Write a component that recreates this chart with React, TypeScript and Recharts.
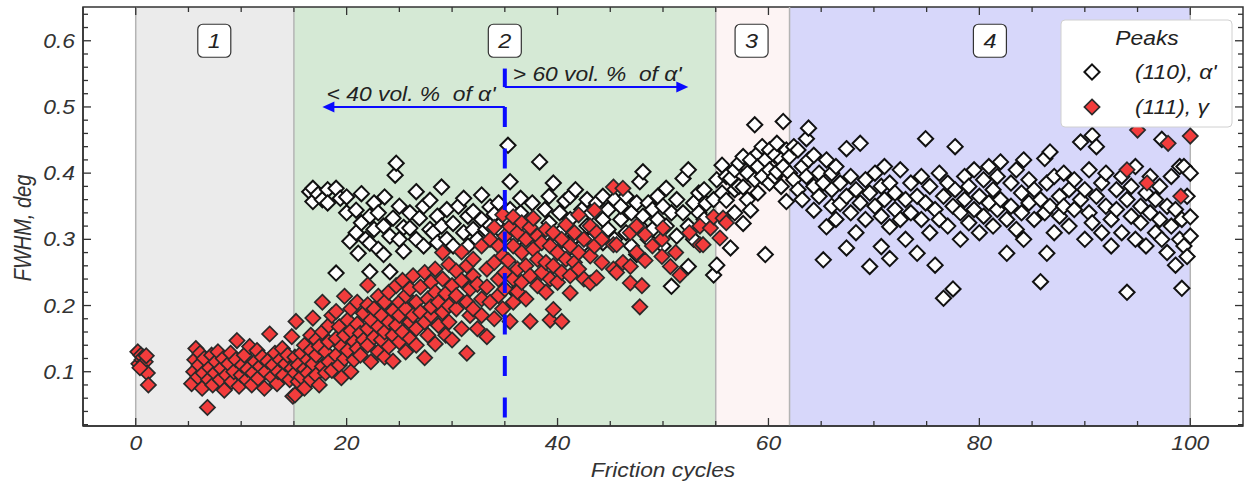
import React from 'react';
import {
  ScatterChart, Scatter, XAxis, YAxis, ReferenceArea, ReferenceLine, ReferenceDot
} from 'recharts';

const FONT = "'Liberation Sans', Arial, Helvetica, sans-serif";
const INK = '#333';
const BLUE = '#0a0aff';
const STRETCH = 1.17; // the figure's text is a little wider than it is tall
const PLOT_H = 419;
const PLOT_W = 1160;

// axis ticks (minor + major)
const xTicks = [0, 5, 10, 15, 20, 25, 30, 35, 40, 45, 50, 55, 60, 65, 70, 75, 80, 85, 90, 95, 100];
const xMajor = [0, 20, 40, 60, 80, 100];
const yTicks = [0.02, 0.04, 0.06, 0.08, 0.1, 0.12, 0.14, 0.16, 0.18, 0.2, 0.22, 0.24, 0.26, 0.28, 0.3,
  0.32, 0.34, 0.36, 0.38, 0.4, 0.42, 0.44, 0.46, 0.48, 0.5, 0.52, 0.54, 0.56, 0.58, 0.6, 0.62, 0.64];
const yMajor = [0.1, 0.2, 0.3, 0.4, 0.5, 0.6];

// wear stages
const stageEdges = [0, 15, 55, 62, 100];
const stageColors = ['#ebebeb', '#d5e9d5', '#fdf4f4', '#d7d7fa'];
const stageNames = ['1', '2', '3', '4'];
const stageLabelX = [7.45, 35, 58.4, 81];

// (111) gamma peak, FWHM vs cycle
const gamma0to15: [number, number][] = [
  [0.2, 0.130], [0.3, 0.112], [0.5, 0.125], [0.6, 0.118], [0.7, 0.122], [0.9, 0.115], [1.0, 0.124], [1.1, 0.098], [1.2, 0.080], [0.4, 0.106],
  [5.3, 0.082], [5.5, 0.100], [5.6, 0.118], [5.7, 0.135], [5.9, 0.092], [6.0, 0.110], [6.1, 0.128], [6.3, 0.075], [6.4, 0.098], [6.5, 0.120],
  [6.8, 0.046], [6.9, 0.088], [7.0, 0.106], [7.2, 0.125], [7.3, 0.080], [7.5, 0.098], [7.6, 0.115], [7.8, 0.130], [8.0, 0.088], [8.1, 0.105],
  [8.3, 0.120], [8.4, 0.072], [8.6, 0.095], [8.8, 0.112], [9.0, 0.128], [9.1, 0.085], [9.3, 0.100], [9.5, 0.118], [9.6, 0.147], [9.8, 0.078],
  [10.0, 0.095], [10.1, 0.110], [10.3, 0.125], [10.5, 0.088], [10.6, 0.104], [10.8, 0.138], [11.0, 0.080], [11.1, 0.098], [11.3, 0.115], [11.5, 0.132],
  [11.6, 0.090], [11.8, 0.108], [12.0, 0.122], [12.2, 0.075], [12.3, 0.100], [12.5, 0.116], [12.7, 0.157], [12.9, 0.092], [13.0, 0.110], [13.2, 0.128],
  [13.4, 0.082], [13.5, 0.100], [13.7, 0.118], [13.9, 0.135], [14.0, 0.095], [14.2, 0.112], [14.4, 0.125], [14.9, 0.063], [14.6, 0.088], [14.8, 0.105], [14.8, 0.153],
];
const gamma15to35: [number, number][] = [
  [15.1, 0.065], [15.1, 0.098], [15.1, 0.122], [15.4, 0.085], [15.4, 0.110], [15.2, 0.176], [15.7, 0.092], [15.7, 0.128],
  [16.0, 0.075], [16.0, 0.104], [16.0, 0.140], [16.3, 0.118], [16.3, 0.098], [16.6, 0.088], [16.6, 0.132], [16.6, 0.155],
  [16.8, 0.181], [16.8, 0.112], [17.1, 0.095], [17.1, 0.125], [17.1, 0.148], [17.4, 0.080], [17.4, 0.138],
  [17.7, 0.205], [17.7, 0.108], [17.7, 0.160], [18.0, 0.098], [18.0, 0.130], [18.3, 0.145], [18.3, 0.115], [18.3, 0.170],
  [18.6, 0.102], [18.6, 0.185], [19.0, 0.191], [19.0, 0.125], [19.0, 0.150], [19.3, 0.110], [19.3, 0.168], [19.5, 0.091], [19.5, 0.138],
  [19.8, 0.214], [19.8, 0.155], [19.8, 0.120], [20.1, 0.132], [20.1, 0.178], [20.4, 0.100], [20.4, 0.162], [20.4, 0.195],
  [20.7, 0.145], [20.7, 0.118], [21.0, 0.172], [21.0, 0.135], [21.0, 0.205], [21.3, 0.125], [21.3, 0.158], [21.6, 0.188], [21.6, 0.148],
  [22.0, 0.231], [22.0, 0.201], [22.0, 0.140], [22.0, 0.165], [22.3, 0.115], [22.3, 0.178], [22.6, 0.152], [22.6, 0.195],
  [23.0, 0.214], [23.0, 0.130], [23.0, 0.168], [23.3, 0.185], [23.3, 0.148], [23.6, 0.205], [23.6, 0.122], [23.6, 0.160],
  [24.0, 0.175], [24.0, 0.138], [24.0, 0.220], [24.4, 0.116], [24.4, 0.192], [24.4, 0.155], [24.7, 0.230], [24.7, 0.170],
  [25.0, 0.145], [25.0, 0.205], [25.0, 0.185], [25.3, 0.160], [25.3, 0.238], [25.6, 0.130], [25.6, 0.195], [25.6, 0.215],
  [26.0, 0.175], [26.0, 0.225], [26.0, 0.150], [26.3, 0.245], [26.3, 0.185], [26.6, 0.140], [26.6, 0.205], [26.6, 0.165],
  [27.0, 0.228], [27.0, 0.190], [27.4, 0.121], [27.4, 0.175], [27.4, 0.250], [27.7, 0.210], [27.7, 0.155],
  [28.0, 0.235], [28.0, 0.185], [28.0, 0.198], [28.4, 0.142], [28.4, 0.255], [28.4, 0.220], [28.7, 0.170], [28.7, 0.205],
  [29.1, 0.280], [29.1, 0.190], [29.1, 0.240], [29.4, 0.155], [29.4, 0.218], [29.7, 0.262], [29.7, 0.200], [29.7, 0.175],
  [30.0, 0.230], [30.0, 0.148], [30.4, 0.195], [30.4, 0.252], [30.4, 0.215], [30.9, 0.281], [30.9, 0.165], [30.9, 0.238],
  [31.4, 0.128], [31.4, 0.205], [31.4, 0.260], [31.7, 0.225], [31.7, 0.185], [32.0, 0.270], [32.0, 0.195], [32.0, 0.245],
  [32.4, 0.165], [32.4, 0.232], [32.8, 0.290], [32.8, 0.210], [32.8, 0.185], [33.3, 0.153], [33.3, 0.255], [33.3, 0.228],
  [33.6, 0.300], [33.6, 0.205], [34.0, 0.265], [34.0, 0.180], [34.0, 0.318], [34.4, 0.240], [34.4, 0.215], [34.4, 0.290],
  [34.8, 0.337], [34.8, 0.275], [34.8, 0.195], [35.0, 0.305], [35.0, 0.250], [35.0, 0.225],
];
const gamma35to56: [number, number][] = [
  [35.5, 0.319], [35.5, 0.176], [35.3, 0.268], [35.8, 0.334], [35.8, 0.290], [35.8, 0.240], [35.8, 0.205],
  [36.2, 0.310], [36.2, 0.255], [36.2, 0.221], [36.6, 0.280], [36.6, 0.325], [36.6, 0.235],
  [37.0, 0.300], [37.0, 0.260], [37.0, 0.210], [37.4, 0.176], [37.4, 0.245], [37.4, 0.318], [37.7, 0.332], [37.7, 0.285],
  [38.1, 0.270], [38.1, 0.230], [38.1, 0.305], [38.5, 0.250], [38.5, 0.295], [38.9, 0.315], [38.9, 0.265], [38.9, 0.220],
  [39.3, 0.178], [39.3, 0.290], [39.3, 0.240], [39.6, 0.194], [39.6, 0.310], [39.6, 0.260], [40.0, 0.280], [40.0, 0.235],
  [40.4, 0.176], [40.4, 0.300], [40.4, 0.250], [40.8, 0.270], [40.8, 0.322], [41.2, 0.219], [41.2, 0.290], [41.2, 0.245],
  [41.6, 0.310], [41.6, 0.265], [42.0, 0.337], [42.0, 0.280], [42.0, 0.255], [42.5, 0.300], [42.5, 0.240],
  [43.1, 0.234], [43.1, 0.320], [43.1, 0.275], [43.5, 0.344], [43.5, 0.290], [43.7, 0.242], [43.7, 0.310], [44.2, 0.265], [44.2, 0.300],
  [45.3, 0.379], [45.3, 0.292], [45.3, 0.255], [45.6, 0.292], [45.6, 0.250], [46.2, 0.377], [46.2, 0.265],
  [46.9, 0.259], [46.9, 0.234], [46.9, 0.310], [47.5, 0.280], [47.5, 0.320], [47.8, 0.198], [48.0, 0.230], [48.3, 0.307], [48.3, 0.268],
  [49.0, 0.290], [49.9, 0.274], [49.9, 0.300], [50.0, 0.317], [50.7, 0.259], [51.2, 0.280], [51.6, 0.246], [52.5, 0.310],
  [53.5, 0.292], [53.5, 0.320], [53.8, 0.292], [54.5, 0.317], [54.8, 0.334], [55.4, 0.302], [55.7, 0.332], [56.0, 0.325],
];
const gamma94to100: [number, number][] = [
  [94.0, 0.405], [95.0, 0.465], [95.9, 0.385], [97.9, 0.445], [99.1, 0.365], [100.0, 0.456],
];

// (110) alpha' peak, FWHM vs cycle
const alpha16to35: [number, number][] = [
  [16.5, 0.372], [16.8, 0.377], [16.8, 0.357], [17.3, 0.368], [17.7, 0.360], [18.2, 0.375], [18.2, 0.355],
  [19.0, 0.377], [19.0, 0.249], [19.4, 0.362], [20.0, 0.364], [20.0, 0.340], [20.3, 0.297], [20.9, 0.344], [20.9, 0.310],
  [21.1, 0.279], [21.4, 0.369], [21.4, 0.325], [21.8, 0.300], [22.2, 0.294], [22.2, 0.251], [22.2, 0.335],
  [22.6, 0.315], [22.6, 0.355], [23.0, 0.285], [23.0, 0.340], [23.5, 0.277], [23.5, 0.320], [23.6, 0.364],
  [24.1, 0.251], [24.1, 0.305], [24.4, 0.332], [24.6, 0.397], [24.7, 0.415], [25.0, 0.300], [25.0, 0.350],
  [25.4, 0.318], [25.4, 0.282], [26.0, 0.317], [26.0, 0.340], [26.6, 0.372], [26.6, 0.300], [26.9, 0.332],
  [27.3, 0.350], [27.3, 0.290], [27.9, 0.359], [27.9, 0.315], [28.2, 0.310], [28.6, 0.335], [28.6, 0.295],
  [29.0, 0.379], [29.0, 0.320], [29.5, 0.300], [29.5, 0.345], [30.1, 0.324], [30.1, 0.290], [30.6, 0.350],
  [31.1, 0.362], [31.1, 0.310], [31.5, 0.335], [31.5, 0.290], [32.0, 0.342], [32.0, 0.315], [32.4, 0.300],
  [32.8, 0.367], [32.8, 0.330], [33.2, 0.315], [33.6, 0.349], [33.6, 0.321], [34.0, 0.300], [34.0, 0.338],
  [34.4, 0.355], [34.4, 0.320], [34.8, 0.310],
];
const alpha35to55: [number, number][] = [
  [35.3, 0.442], [35.5, 0.387], [35.5, 0.345], [35.8, 0.257], [35.8, 0.320], [36.0, 0.305], [36.0, 0.221],
  [36.5, 0.340], [36.5, 0.362], [37.0, 0.318], [37.0, 0.290], [37.6, 0.355], [37.6, 0.330], [38.3, 0.417], [38.3, 0.300],
  [38.8, 0.307], [38.8, 0.345], [39.2, 0.365], [39.2, 0.325], [39.6, 0.385], [39.6, 0.290], [40.2, 0.340], [40.2, 0.310],
  [40.7, 0.358], [40.7, 0.280], [41.2, 0.330], [41.2, 0.365], [41.7, 0.375], [41.7, 0.305], [42.3, 0.345], [42.3, 0.290],
  [42.8, 0.360], [42.8, 0.320], [43.2, 0.300], [43.2, 0.340], [43.7, 0.310], [43.7, 0.355], [44.3, 0.330], [44.3, 0.365],
  [44.3, 0.295], [44.8, 0.345], [44.8, 0.315], [45.4, 0.360], [45.4, 0.300], [46.0, 0.330], [46.0, 0.350],
  [46.5, 0.310], [46.5, 0.365], [47.0, 0.340], [47.0, 0.290], [47.5, 0.277], [47.5, 0.355], [47.8, 0.387], [47.8, 0.320],
  [48.1, 0.402], [48.1, 0.335], [48.6, 0.300], [48.6, 0.355], [49.0, 0.345], [49.0, 0.315], [49.5, 0.365], [49.5, 0.330],
  [50.0, 0.350], [50.0, 0.290], [50.3, 0.377], [50.3, 0.320], [50.8, 0.229], [50.8, 0.340], [51.3, 0.360], [51.3, 0.305],
  [51.9, 0.392], [51.9, 0.340], [52.4, 0.405], [52.4, 0.259], [52.4, 0.320], [52.9, 0.355], [52.9, 0.300],
  [53.4, 0.340], [53.4, 0.370], [53.9, 0.330], [53.9, 0.375], [54.1, 0.354], [54.8, 0.246], [54.8, 0.360], [55.1, 0.261], [55.1, 0.390],
];
const alpha55to62: [number, number][] = [
  [55.6, 0.412], [55.6, 0.370], [56.0, 0.359], [56.0, 0.395], [56.4, 0.392], [56.4, 0.287], [56.8, 0.375], [56.8, 0.405],
  [56.8, 0.340], [57.2, 0.415], [57.2, 0.380], [57.6, 0.379], [57.6, 0.324], [57.6, 0.425], [58.0, 0.400], [58.0, 0.360],
  [58.3, 0.344], [58.3, 0.420], [58.7, 0.473], [58.7, 0.390], [59.0, 0.430], [59.0, 0.410], [59.0, 0.370], [59.4, 0.395],
  [59.4, 0.440], [59.7, 0.277], [59.7, 0.420], [60.1, 0.405], [60.1, 0.385], [60.1, 0.435], [60.6, 0.427], [60.6, 0.395],
  [60.8, 0.402], [60.8, 0.445], [61.2, 0.420], [61.2, 0.380], [61.4, 0.478], [61.4, 0.410], [61.7, 0.357], [61.7, 0.435],
  [62.0, 0.400], [62.0, 0.425],
];
const alpha62to100: [number, number][] = [
  [62.4, 0.390], [62.4, 0.440], [62.8, 0.435], [62.8, 0.375], [63.2, 0.410], [63.2, 0.360], [63.6, 0.452], [63.6, 0.395],
  [63.8, 0.468], [63.8, 0.420], [64.3, 0.427], [64.3, 0.344], [64.3, 0.380], [64.8, 0.400], [64.8, 0.365],
  [65.2, 0.269], [65.2, 0.385], [65.5, 0.319], [65.5, 0.420], [66.0, 0.375], [66.0, 0.350], [66.0, 0.400],
  [66.4, 0.410], [66.4, 0.330], [66.8, 0.354], [66.8, 0.385], [67.4, 0.437], [67.4, 0.287], [67.4, 0.365],
  [67.8, 0.395], [67.8, 0.340], [68.3, 0.375], [68.3, 0.310], [68.7, 0.445], [68.7, 0.355], [69.2, 0.390], [69.2, 0.330],
  [69.6, 0.259], [69.6, 0.370], [70.1, 0.350], [70.1, 0.400], [70.7, 0.289], [70.7, 0.380], [70.7, 0.335],
  [71.0, 0.360], [71.0, 0.410], [71.5, 0.271], [71.5, 0.319], [71.5, 0.385], [72.0, 0.345], [72.0, 0.370],
  [72.5, 0.405], [72.5, 0.330], [73.0, 0.360], [73.0, 0.300], [73.5, 0.385], [73.5, 0.340], [74.1, 0.279], [74.1, 0.365],
  [74.5, 0.395], [74.5, 0.330], [74.9, 0.452], [74.9, 0.355], [75.3, 0.310], [75.3, 0.380], [75.8, 0.261], [75.8, 0.345],
  [76.2, 0.400], [76.2, 0.330], [76.6, 0.211], [76.6, 0.365], [77.0, 0.385], [77.0, 0.320], [77.5, 0.225], [77.5, 0.350],
  [77.7, 0.440], [77.7, 0.375], [78.2, 0.340], [78.2, 0.300], [78.6, 0.395], [78.6, 0.360], [79.0, 0.325], [79.0, 0.380],
  [79.5, 0.405], [79.5, 0.345], [80.0, 0.365], [80.0, 0.310], [80.4, 0.390], [80.4, 0.335], [80.9, 0.355], [80.9, 0.410],
  [81.3, 0.320], [81.3, 0.375], [81.7, 0.395], [81.7, 0.345], [82.0, 0.417], [82.0, 0.360], [82.6, 0.279], [82.6, 0.330],
  [83.0, 0.385], [83.0, 0.350], [83.5, 0.405], [83.5, 0.315], [84.0, 0.370], [84.0, 0.340], [84.2, 0.420], [84.2, 0.300],
  [84.7, 0.355], [84.7, 0.390], [85.2, 0.330], [85.2, 0.375], [85.8, 0.236], [85.8, 0.360], [86.2, 0.422], [86.2, 0.340],
  [86.4, 0.279], [86.4, 0.385], [86.7, 0.432], [86.7, 0.350], [87.1, 0.310], [87.1, 0.395], [87.6, 0.365], [87.6, 0.335],
  [88.0, 0.400], [88.0, 0.350], [88.5, 0.320], [88.5, 0.375], [89.0, 0.345], [89.0, 0.390], [89.6, 0.447], [89.6, 0.360],
  [90.0, 0.300], [90.0, 0.375], [90.4, 0.340], [90.4, 0.405], [90.7, 0.457], [90.7, 0.325], [91.1, 0.440], [91.1, 0.365],
  [91.6, 0.310], [91.6, 0.385], [92.0, 0.350], [92.0, 0.400], [92.5, 0.330], [92.5, 0.290], [93.0, 0.375], [93.0, 0.345],
  [93.5, 0.310], [93.5, 0.395], [94.0, 0.220], [94.0, 0.360], [94.4, 0.335], [94.4, 0.380], [94.8, 0.410], [94.8, 0.300],
  [95.3, 0.350], [95.3, 0.325], [95.8, 0.370], [95.8, 0.290], [96.2, 0.340], [96.2, 0.395], [96.7, 0.310], [96.7, 0.360],
  [97.1, 0.380], [97.1, 0.330], [97.3, 0.451], [97.3, 0.300], [97.8, 0.350], [97.8, 0.280], [98.2, 0.320], [98.2, 0.395],
  [98.6, 0.261], [98.6, 0.345], [99.0, 0.410], [99.0, 0.300], [99.2, 0.226], [99.2, 0.330], [99.4, 0.410], [99.4, 0.290],
  [99.7, 0.274], [99.7, 0.365], [100.0, 0.334], [100.0, 0.400], [100.0, 0.305],
];

const toPoints = (...parts: [number, number][][]) =>
  parts.flat().map(([x, y]) => ({ x, y }));

const alphaData = toPoints(alpha16to35, alpha35to55, alpha55to62, alpha62to100);
const gammaData = toPoints(gamma0to15, gamma15to35, gamma35to56, gamma94to100);

const R = 7.6;
const diamondPath = (cx: number, cy: number, r: number) =>
  `M${cx},${cy - r}L${cx + r},${cy}L${cx},${cy + r}L${cx - r},${cy}Z`;

const WhiteDiamond = (p: any) => (
  <path d={diamondPath(p.cx, p.cy, R)} fill="#fff" stroke="#111" strokeWidth={2} />
);
const RedDiamond = (p: any) => (
  <path d={diamondPath(p.cx, p.cy, R)} fill="#f23c3c" stroke="#2a2a2a" strokeWidth={1.7} />
);

const textStyle = { fontFamily: FONT, fontStyle: 'italic' as const, fontSize: 19.5, fill: INK, whiteSpace: 'pre' as const };

// horizontally stretched italic text
const WideText = ({ x, y, anchor = 'start', fill = INK, size = 19.5, children }: any) => (
  <g transform={`translate(${x},${y}) scale(${STRETCH},1)`}>
    <text x={0} y={0} textAnchor={anchor} style={{ ...textStyle, fontSize: size, fill }}>{children}</text>
  </g>
);

const isMajorY = (v: number) => yMajor.some(m => Math.abs(m - v) < 1e-6);

// bottom ticks also draw the mirrored ticks on the top spine
const BottomTick = ({ x, y, payload }: any) => {
  const major = xMajor.includes(payload.value);
  const len = major ? 8 : 5;
  return (
    <g>
      <line x1={x} x2={x} y1={y} y2={y - len} stroke={INK} strokeWidth={1.3} />
      <line x1={x} x2={x} y1={y - PLOT_H} y2={y - PLOT_H + len} stroke={INK} strokeWidth={1.3} />
      {major && <WideText x={x} y={y + 24} anchor="middle">{payload.value}</WideText>}
    </g>
  );
};
// left ticks also draw the mirrored ticks on the right spine
const LeftTick = ({ x, y, payload }: any) => {
  const major = isMajorY(payload.value);
  const len = major ? 8 : 5;
  return (
    <g>
      <line x1={x} x2={x + len} y1={y} y2={y} stroke={INK} strokeWidth={1.3} />
      <line x1={x + PLOT_W} x2={x + PLOT_W - len} y1={y} y2={y} stroke={INK} strokeWidth={1.3} />
      {major && <WideText x={x - 8} y={y + 7} anchor="end">{payload.value.toFixed(1)}</WideText>}
    </g>
  );
};

const StageBox = (text: string) => (p: any) => (
  <g>
    <rect x={p.cx - 16.5} y={p.cy - 16.5} width={33} height={33} rx={5} fill="#fff" stroke={INK} strokeWidth={1.2} />
    <WideText x={p.cx} y={p.cy + 7.5} anchor="middle" fill="#222" size={20}>{text}</WideText>
  </g>
);
const ArrowLeft = (p: any) => (
  <path d={`M${p.cx},${p.cy}L${p.cx + 12},${p.cy - 5.5}L${p.cx + 12},${p.cy + 5.5}Z`} fill={BLUE} />
);
const ArrowRight = (p: any) => (
  <path d={`M${p.cx},${p.cy}L${p.cx - 12},${p.cy - 5.5}L${p.cx - 12},${p.cy + 5.5}Z`} fill={BLUE} />
);
const Note = (text: string) => (p: any) => (
  <WideText x={p.cx} y={p.cy - 6} fill="#222">{text}</WideText>
);

export default function App() {
  return (
    <div style={{ position: 'absolute', left: 0, top: 0, width: 1245, height: 489, background: '#fff' }}>
      <ScatterChart width={1245} height={489} margin={{ top: 7, right: 2, bottom: 0, left: 0 }}>
        {stageColors.map((c, i) => (
          <ReferenceArea key={`area-${i}`} x1={stageEdges[i]} x2={stageEdges[i + 1]} fill={c} fillOpacity={1} stroke="none" />
        ))}
        {stageEdges.map(e => (
          <ReferenceLine key={`edge-${e}`} x={e} stroke="#b4b4b4" strokeWidth={1.5} />
        ))}
        <ReferenceArea x1={-5} x2={105} y1={0.018} y2={0.651} fill="none" stroke={INK} strokeWidth={1.5} ifOverflow="visible" />
        <XAxis type="number" dataKey="x" domain={[-5, 105]} ticks={xTicks} interval={0}
          height={63} tickSize={0} tickMargin={0} tick={<BottomTick />}
          axisLine={{ stroke: INK, strokeWidth: 1.5 }} allowDataOverflow />
        <YAxis type="number" dataKey="y" domain={[0.018, 0.651]} ticks={yTicks} interval={0}
          width={83} tickSize={0} tickMargin={0} tick={<LeftTick />}
          axisLine={{ stroke: INK, strokeWidth: 1.5 }} allowDataOverflow />

        <Scatter name="(110), α'" data={alphaData} shape={WhiteDiamond} isAnimationActive={false} />
        <Scatter name="(111), γ" data={gammaData} shape={RedDiamond} isAnimationActive={false} />

        <ReferenceLine segment={[{ x: 35, y: 0.5 }, { x: 35, y: 0.018 }]} stroke={BLUE} strokeWidth={4}
          strokeDasharray="20 21.5" zIndex={650} />
        <ReferenceLine segment={[{ x: 35, y: 0.558 }, { x: 35, y: 0.53 }]} stroke={BLUE} strokeWidth={4} zIndex={650} />
        <ReferenceLine segment={[{ x: 35, y: 0.53 }, { x: 51.5, y: 0.53 }]} stroke={BLUE} strokeWidth={2} zIndex={650} />
        <ReferenceLine segment={[{ x: 35, y: 0.5 }, { x: 18.5, y: 0.5 }]} stroke={BLUE} strokeWidth={2} zIndex={650} />
        <ReferenceDot x={17.7} y={0.5} r={0} shape={ArrowLeft} />
        <ReferenceDot x={52.4} y={0.53} r={0} shape={ArrowRight} />
        <ReferenceDot x={18.1} y={0.5} r={0} shape={Note("< 40 vol. %  of α'")} />
        <ReferenceDot x={35.75} y={0.53} r={0} shape={Note("> 60 vol. %  of α'")} />
        {stageNames.map((n, i) => (
          <ReferenceDot key={`stage-${n}`} x={stageLabelX[i]} y={0.6} r={0} shape={StageBox(n)} />
        ))}
      </ScatterChart>

      <svg width={1245} height={489} style={{ position: 'absolute', left: 0, top: 0, pointerEvents: 'none' }}>
        <g transform="translate(31,228) rotate(-90) scale(1,1.17)">
          <text x={0} y={0} textAnchor="middle" style={{ ...textStyle, fontSize: 20 }}>FWHM, deg</text>
        </g>
        <WideText x={663} y={477} anchor="middle">Friction cycles</WideText>
        <rect x={1061} y={20} width={171} height={107} rx={4} fill="#fff" stroke="#d0d0d0" strokeWidth={1} />
        <WideText x={1147} y={45} anchor="middle" fill="#222">Peaks</WideText>
        <path d={diamondPath(1092, 72, R)} fill="#fff" stroke="#111" strokeWidth={2} />
        <WideText x={1135} y={79} fill="#222">(110), α'</WideText>
        <path d={diamondPath(1092, 107, R)} fill="#f23c3c" stroke="#2a2a2a" strokeWidth={1.7} />
        <WideText x={1135} y={114} fill="#222">(111), γ</WideText>
      </svg>
    </div>
  );
}
